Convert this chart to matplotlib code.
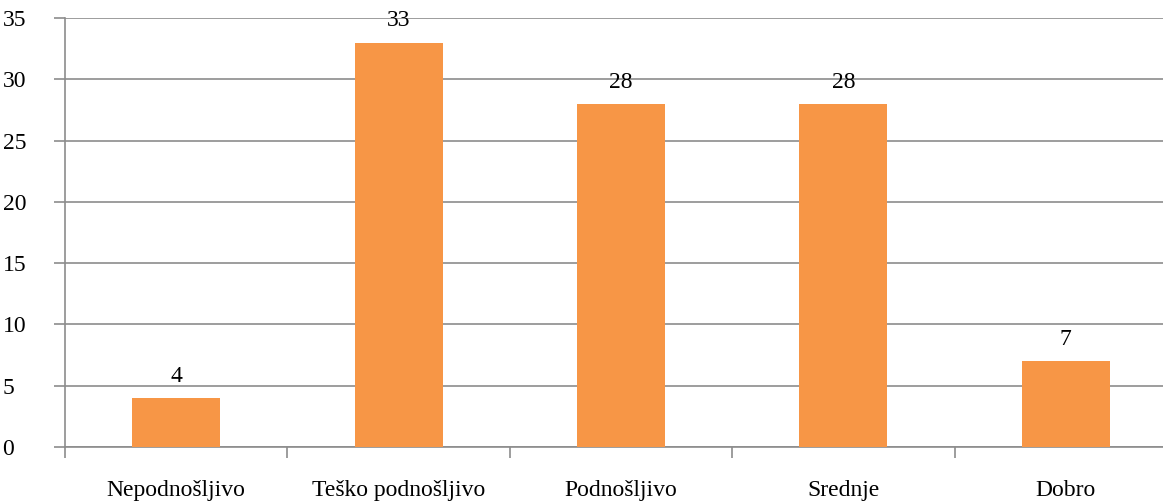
import matplotlib.pyplot as plt

categories = ['Nepodnošljivo', 'Teško podnošljivo', 'Podnošljivo', 'Srednje', 'Dobro']
values = [4, 33, 28, 28, 7]
yticks = [0, 5, 10, 15, 20, 25, 30, 35]

plt.rcParams['font.family'] = ['Liberation Serif', 'DejaVu Serif']

W, H = 1163, 503
fig = plt.figure(figsize=(W / 100, H / 100), dpi=100)
# axes run past the right edge, as in the cropped original
left, right, top, bottom = 65, 1177, 18, 447
ax = fig.add_axes([left / W, 1 - bottom / H, (right - left) / W, (bottom - top) / H])

x = list(range(len(categories)))
ax.bar(x, values, width=0.395, color='#F79646', zorder=3)
for xi, v in zip(x, values):
    ax.annotate(str(v), (xi, v), xytext=(0, 8), textcoords='offset points',
                ha='center', va='bottom', fontsize=17)

ax.set_xlim(-0.5, len(categories) - 0.5)
ax.set_ylim(0, 35)
ax.set_yticks(yticks)
ax.set_yticklabels([str(t) for t in yticks], fontsize=17, ha='left')
ax.yaxis.grid(True, color='#8c8c8c', linewidth=1.2, zorder=0)

ax.set_xticks([i - 0.5 for i in range(len(categories) + 1)])
ax.set_xticklabels([])
ax.set_xticks(x, minor=True)
ax.set_xticklabels(categories, minor=True, fontsize=17)
ax.tick_params(axis='x', which='minor', length=0, pad=24)
ax.tick_params(axis='x', which='major', length=8, color='#8c8c8c', width=1.2)
ax.tick_params(axis='y', length=8, color='#8c8c8c', width=1.2, pad=37)

for s in ['top', 'right']:
    ax.spines[s].set_visible(False)
for s in ['left', 'bottom']:
    ax.spines[s].set_color('#8c8c8c')
    ax.spines[s].set_linewidth(1.2)

fig.savefig('out.png', dpi=100)
